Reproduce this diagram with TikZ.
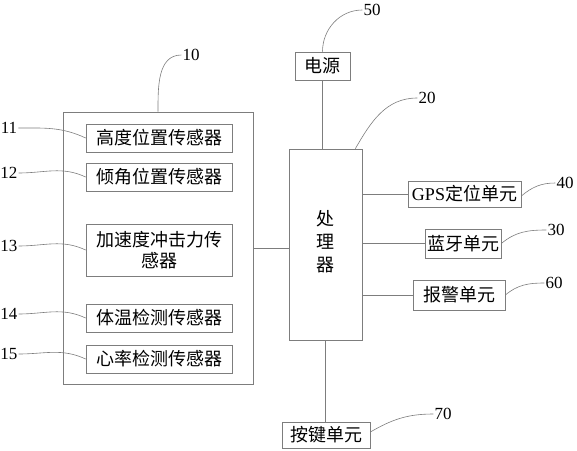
\documentclass[tikz,border=0pt]{standalone}
\usepackage{fontspec}
\setmainfont{Liberation Serif}
\newfontfamily\cjk{Noto Sans CJK SC}
\usetikzlibrary{calc}
\definecolor{linegray}{RGB}{125,125,125}
\begin{document}
\begin{tikzpicture}[x=1pt,y=-1pt,
  box/.style={draw=linegray, line width=0.7pt, inner sep=0pt, font=\cjk\fontsize{18}{21}\selectfont},
  num/.style={inner sep=1pt, font=\fontsize{17}{17}\selectfont},
  conn/.style={draw=linegray, line width=0.7pt},
  lead/.style={draw=linegray, line width=0.6pt}]
\useasboundingbox (0,0) rectangle (577,450);
% sensor group
\node[box, minimum width=190pt, minimum height=272pt] (big) at (158,248) {};
\node[box, minimum width=146pt, minimum height=28pt] (b11) at (159,138) {高度位置传感器};
\node[box, minimum width=146pt, minimum height=28pt] (b12) at (159,177) {倾角位置传感器};
\node[box, minimum width=146pt, minimum height=52pt, align=center] (b13) at (159,250) {加速度冲击力传\\感器};
\node[box, minimum width=146pt, minimum height=28pt] (b14) at (159,318) {体温检测传感器};
\node[box, minimum width=146pt, minimum height=28pt] (b15) at (159,359) {心率检测传感器};
% processor and units
\node[box, minimum width=73pt, minimum height=191pt] (proc) at (325.5,244.5) {};
\node[font=\cjk\fontsize{18}{23}\selectfont, align=center] (proctext) at (325.5,242) {处\\理\\器};
\node[box, minimum width=55pt, minimum height=28pt] (power) at (322.5,66) {电源};
\node[box, minimum width=113pt, minimum height=26pt] (gps) at (464.5,194) {\rmfamily GPS\cjk 定位单元};
\node[box, minimum width=76pt, minimum height=29pt] (bt) at (463,243.5) {蓝牙单元};
\node[box, minimum width=92pt, minimum height=30pt] (alarm) at (459,295) {报警单元};
\node[box, minimum width=88pt, minimum height=26pt] (key) at (326,435) {按键单元};
% labels
\node[num] (l10) at (191,55) {10};
\node[num] (l11) at (9,128) {11};
\node[num] (l12) at (9,173) {12};
\node[num] (l13) at (9,246) {13};
\node[num] (l14) at (9,314) {14};
\node[num] (l15) at (9,354) {15};
\node[num] (l50) at (372,10) {50};
\node[num] (l20) at (427,98) {20};
\node[num] (l40) at (565,183) {40};
\node[num] (l30) at (556,230) {30};
\node[num] (l60) at (554,283) {60};
\node[num] (l70) at (443,414) {70};
% connectors
\draw[conn] (big.east) -- (big.east -| proc.west);
\draw[conn] (power.south) -- (power.south |- proc.north);
\draw[conn] (gps.west -| proc.east) -- (gps.west);
\draw[conn] (bt.west -| proc.east) -- (bt.west);
\draw[conn] (alarm.west -| proc.east) -- (alarm.west);
\draw[conn] (proc.south) -- (proc.south |- key.north);
% leaders
\draw[lead] (l11.east) to[out=0,in=155] (b11.west);
\draw[lead] (l12.east) to[out=0,in=155] (b12.west);
\draw[lead] (l13.east) to[out=0,in=155] (b13.west);
\draw[lead] (l14.east) to[out=0,in=155] (b14.west);
\draw[lead] (l15.east) to[out=0,in=155] (b15.west);
\draw[lead] (big.north) to[out=90,in=180] (l10.west);
\draw[lead] (power.north) to[out=90,in=180] (l50.west);
\draw[lead] ($(proc.north east)+(-7,0)$) to[out=60,in=180] (l20.west);
\draw[lead] ($(gps.east)+(0,2)$) to[out=40,in=180] (l40.west);
\draw[lead] (bt.east) to[out=40,in=180] (l30.west);
\draw[lead] (alarm.east) to[out=40,in=180] (l60.west);
\draw[lead] ($(key.east)+(0,-3)$) to[out=30,in=180] (l70.west);
\end{tikzpicture}
\end{document}
